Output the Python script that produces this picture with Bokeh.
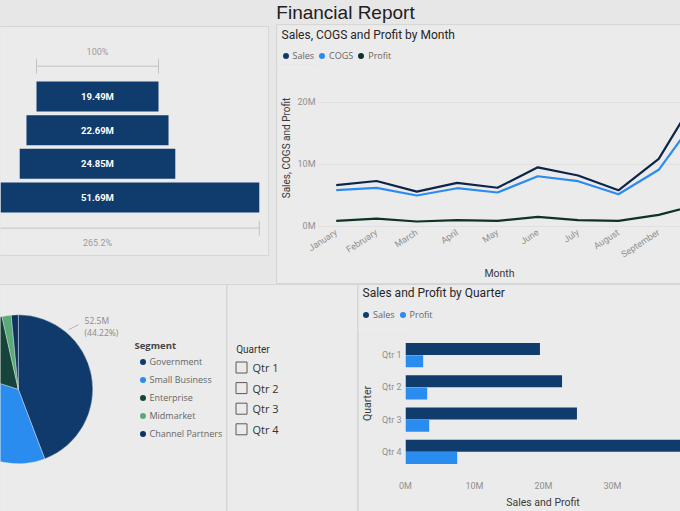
import numpy as np
from bokeh.plotting import figure
from bokeh.layouts import column, row
from bokeh.models import (ColumnDataSource, Range1d, FactorRange, FixedTicker,
                          PrintfTickFormatter, Legend, LegendItem, Div)
from bokeh.transform import dodge
from bokeh.core.properties import value
from bokeh.embed import file_html
from bokeh.resources import INLINE

# ---------------- data ($ millions) ----------------
quarters = ["Qtr 1", "Qtr 2", "Qtr 3", "Qtr 4"]
quarter_sales = [19.49, 22.69, 24.85, 51.69]
quarter_profit = [2.56, 3.14, 3.43, 7.49]

months = ["January", "February", "March", "April", "May", "June",
          "July", "August", "September", "October"]
month_sales = [6.63, 7.29, 5.57, 6.98, 6.21, 9.50, 8.18, 5.80, 10.87, 21.56]
month_cogs = [5.81, 6.19, 4.95, 6.13, 5.44, 8.06, 7.26, 5.16, 9.10, 18.03]
month_profit = [0.87, 1.24, 0.76, 0.97, 0.87, 1.52, 0.97, 0.87, 1.84, 3.52]

segments = ["Government", "Small Business", "Enterprise", "Midmarket", "Channel Partners"]
segment_sales = [52.50, 42.43, 19.61, 2.38, 1.80]

# ---------------- styling ----------------
PAGE = "#e7e7e7"
PANEL = "#ebebeb"
EDGE = "#d6d6d6"
NAVY = "#103c6d"
BRIGHT = "#2b8cf0"
SALES_LINE = "#0d2548"
PROFIT_LINE = "#0d3325"
SEG_COLORS = ["#0f3a6b", BRIGHT, "#17443a", "#5aab78", "#0d3363"]
HEAD_FONT = "Roboto"
BODY_FONT = "Open Sans"

COMMON = dict(toolbar_location=None, output_backend="svg", frame_align=False)
SHADOW = {"box-shadow": f"0 0 0 1px {EDGE}"}


def panel(fig, shadow=True):
    fig.background_fill_color = PANEL
    fig.border_fill_color = PANEL
    fig.outline_line_color = None
    if shadow:
        fig.styles = SHADOW


def style_axis(ax):
    ax.axis_line_color = None
    ax.major_tick_line_color = None
    ax.minor_tick_line_color = None
    ax.major_tick_out = 0
    ax.major_tick_in = 0
    ax.minor_tick_out = 0
    ax.major_label_text_font = HEAD_FONT
    ax.major_label_text_font_size = "9px"
    ax.major_label_text_color = "#8f8f8f"
    ax.axis_label_text_font = HEAD_FONT
    ax.axis_label_text_font_size = "10.5px"
    ax.axis_label_text_color = "#3a3a3a"
    ax.axis_label_text_font_style = "normal"


def dot_legend(items, **kw):
    return Legend(items=items, glyph_width=15, glyph_height=15, label_height=10,
                  label_standoff=0, padding=0, margin=0, border_line_color=None,
                  background_fill_alpha=0, label_text_font=BODY_FONT,
                  label_text_font_size="9px", label_text_color="#666666", **kw)


def visual_header(width, height, title, title_y, keys, legend_loc, spacing):
    """Strip on top of a visual holding its title and its series legend."""
    h = figure(width=width, height=height, x_range=Range1d(0, width),
               y_range=Range1d(height, 0), x_axis_location=None,
               y_axis_location=None, min_border=0, **COMMON)
    panel(h, shadow=False)
    h.grid.visible = False
    h.text(x=[4], y=[title_y], text=[title], text_color="#262626",
           text_font=value(HEAD_FONT), text_font_size="12px", text_baseline="middle")
    items = []
    for name, color in keys:
        r = h.scatter(x=[0], y=[0], size=0, fill_color=color, line_color=None)
        items.append(LegendItem(label=name, renderers=[r]))
    h.add_layout(dot_legend(items, orientation="horizontal", spacing=spacing,
                            location=legend_loc))
    return h


# ---------------- page header ----------------
header = Div(text="Financial Report", width=680, height=25, margin=0,
             styles={"font-family": "'Liberation Sans', Arial, sans-serif",
                     "font-size": "19px", "color": "#202020", "line-height": "25px",
                     "text-align": "center", "padding-left": "11px",
                     "box-sizing": "border-box"})

# ---------------- funnel (sales by quarter) ----------------
n_q = len(quarter_sales)
FUN_PX_PER_M = 6.26
FUN_ROW_PX = 33.67
fun_src = ColumnDataSource(dict(
    y=list(range(n_q)),
    left=[-v / 2 for v in quarter_sales],
    right=[v / 2 for v in quarter_sales],
    x=[0.0] * n_q,
    label=[f"{v:.2f}M" for v in quarter_sales],
))
fun = figure(width=268, height=228, margin=(2, 9, 30, 0),
             x_range=Range1d(-97 / FUN_PX_PER_M, (268 - 97) / FUN_PX_PER_M),
             y_range=Range1d((228 - 69) / FUN_ROW_PX, -69 / FUN_ROW_PX),
             x_axis_location=None, y_axis_location=None, min_border=0, **COMMON)
panel(fun)
fun.grid.visible = False
fun.hbar(y="y", left="left", right="right", height=0.89, source=fun_src,
         fill_color=NAVY, line_color=None)
fun.text(x="x", y="y", text="label", source=fun_src, text_color="white",
         text_font=value(HEAD_FONT), text_font_size="9.5px", text_font_style="bold",
         text_align="center", text_baseline="middle")

# conversion brackets: first stage (100%) and last stage relative to first
first_half = quarter_sales[0] / 2
last_half = quarter_sales[-1] / 2
top_y = -0.90
bot_y = (n_q - 1) + 0.91
tick = 0.22
fun.segment(x0=[-first_half, -first_half, first_half],
            y0=[top_y, top_y - tick, top_y - tick],
            x1=[first_half, -first_half, first_half],
            y1=[top_y, top_y + tick, top_y + tick],
            line_color="#c3c3c3", line_width=1)
fun.segment(x0=[-last_half, -last_half, last_half],
            y0=[bot_y, bot_y - tick, bot_y - tick],
            x1=[last_half, -last_half, last_half],
            y1=[bot_y, bot_y + tick, bot_y + tick],
            line_color="#c3c3c3", line_width=1)
pct_first = "100%"
pct_last = f"{quarter_sales[-1] / quarter_sales[0] * 100:.1f}%"
fun.text(x=[0, 0], y=[top_y - 0.41, bot_y + 0.43], text=[pct_first, pct_last],
         text_color="#9c9c9c", text_font=value(HEAD_FONT), text_font_size="9px",
         text_align="center", text_baseline="middle")

# ---------------- line chart by month ----------------
series = [("Sales", month_sales, SALES_LINE, NAVY),
          ("COGS", month_cogs, BRIGHT, BRIGHT),
          ("Profit", month_profit, PROFIT_LINE, PROFIT_LINE)]
lp_head = visual_header(403, 39, "Sales, COGS and Profit by Month", 9,
                        [(s[0], s[3]) for s in series], (0.5, 1.5), -3)

mx = list(range(len(months)))
lp = figure(width=403, height=219,
            x_range=Range1d(-0.44, 8.54), y_range=Range1d(-0.85, 26.08),
            min_border_left=41, min_border_right=0, min_border_top=0,
            min_border_bottom=52, **COMMON)
panel(lp, shadow=False)
lp.xgrid.visible = False
lp.ygrid.ticker = FixedTicker(ticks=[0, 10, 20])
lp.ygrid.grid_line_color = "#e0e0e0"
style_axis(lp.xaxis[0])
style_axis(lp.yaxis[0])
lp.xaxis.ticker = FixedTicker(ticks=mx)
lp.xaxis.major_label_overrides = {i: m for i, m in enumerate(months)}
lp.xaxis.major_label_orientation = 0.576
lp.xaxis.major_label_standoff = 0
lp.xaxis.axis_label = "Month"
lp.xaxis.axis_label_standoff = 0
lp.yaxis.ticker = FixedTicker(ticks=[0, 10, 20])
lp.yaxis.formatter = PrintfTickFormatter(format="%dM")
lp.yaxis.major_label_standoff = 3
lp.yaxis.axis_label = "Sales, COGS and Profit"
lp.yaxis.axis_label_text_font_size = "10px"
lp.yaxis.axis_label_standoff = 3
for name, vals, lc, _ in reversed(series):
    lp.line(x=mx, y=vals, line_color=lc, line_width=2.2)

line_panel = column(lp_head, lp, margin=(0, 0, 2, 0), styles=SHADOW)

# ---------------- pie by segment ----------------
total = sum(segment_sales)
fracs = [v / total for v in segment_sales]
cum = np.concatenate([[0.0], np.cumsum(fracs)])
pie_src = ColumnDataSource(dict(
    seg=segments, val=segment_sales, color=SEG_COLORS,
    start=[np.pi / 2 - 2 * np.pi * c for c in cum[:-1]],
    end=[np.pi / 2 - 2 * np.pi * c for c in cum[1:]],
    x=[0.0] * len(segments), y=[0.0] * len(segments),
))
R = 74.5
pp = figure(width=227, height=226, x_range=Range1d(-17.8, 209.2),
            y_range=Range1d(-122.2, 103.8), x_axis_location=None,
            y_axis_location=None, min_border=0, **COMMON)
panel(pp)
pp.grid.visible = False
pp.wedge(x="x", y="y", radius=R, start_angle="start", end_angle="end",
         direction="clock", fill_color="color", line_color=PANEL, line_width=0.4,
         source=pie_src)

# data label for the largest segment
ang = 0.87
ax0, ay0 = (R + 3.5) * np.cos(ang), (R + 3.5) * np.sin(ang)
pp.line(x=[ax0, ax0 + 10], y=[ay0, ay0 + 5], line_color="#b5b5b5", line_width=1)
pp.text(x=[ax0 + 16, ax0 + 16], y=[ay0 + 9, ay0 - 3],
        text=[f"{segment_sales[0]}M", f"({fracs[0] * 100:.2f}%)"],
        text_color="#8a8a8a", text_font=value(BODY_FONT), text_font_size="8.5px",
        text_align="left", text_baseline="middle")

seg_dots = pp.scatter(x="x", y="y", size=0, fill_color="color", line_color=None,
                      source=pie_src)
seg_items = [LegendItem(label=s, renderers=[seg_dots], index=i)
             for i, s in enumerate(segments)]
pp.add_layout(dot_legend(seg_items, title="Segment", spacing=3, title_standoff=2,
                         location=(134.5, 70), title_text_font=BODY_FONT,
                         title_text_font_size="9.5px", title_text_font_style="bold",
                         title_text_color="#454545"))

# ---------------- quarter slicer ----------------
SL_ROW = 20.6
sp = figure(width=131, height=226, x_range=Range1d(0, 131),
            y_range=Range1d((226 - 82) / SL_ROW, -82 / SL_ROW),
            x_axis_location=None, y_axis_location=None, min_border=0, **COMMON)
panel(sp)
sp.grid.visible = False
qy = list(range(len(quarters)))
sp.rect(x=[14] * len(quarters), y=qy, width=11, height=11, width_units="screen",
        height_units="screen", fill_color=None, line_color="#5a5a5a", line_width=1)
sp.text(x=[25] * len(quarters), y=qy, text=quarters, text_color="#333333",
        text_font=value(BODY_FONT), text_font_size="11px", text_baseline="middle")
sp.text(x=[8.7], y=[-0.87], text=["Quarter"], text_color="#333333",
        text_font=value(HEAD_FONT), text_font_size="10px", text_baseline="middle")

# ---------------- bar chart by quarter ----------------
bp_head = visual_header(322, 49, "Sales and Profit by Quarter", 7,
                        [("Sales", NAVY), ("Profit", BRIGHT)], (0, 12.5), -1)

bsrc = ColumnDataSource(dict(q=quarters, sales=quarter_sales, profit=quarter_profit))
bp = figure(width=322, height=177,
            y_range=FactorRange(factors=quarters[::-1], range_padding=0.07),
            x_range=Range1d(0, 39.86), min_border_left=47, min_border_right=0,
            min_border_top=0, min_border_bottom=37, **COMMON)
panel(bp, shadow=False)
bp.grid.visible = False
style_axis(bp.xaxis[0])
style_axis(bp.yaxis[0])
bp.xaxis.ticker = FixedTicker(ticks=[0, 10, 20, 30, 40])
bp.xaxis.formatter = PrintfTickFormatter(format="%dM")
bp.xaxis.major_label_standoff = 8
bp.xaxis.axis_label = "Sales and Profit"
bp.xaxis.axis_label_standoff = 2
bp.yaxis.major_label_standoff = 4
bp.yaxis.axis_label = "Quarter"
bp.yaxis.axis_label_standoff = 5
bp.hbar(y=dodge("q", 0.19, range=bp.y_range), right="sales", height=0.37,
        source=bsrc, fill_color=NAVY, line_color=None)
bp.hbar(y=dodge("q", -0.19, range=bp.y_range), right="profit", height=0.37,
        source=bsrc, fill_color=BRIGHT, line_color=None)

bar_panel = column(bp_head, bp, styles=SHADOW)

page = column(header, row(fun, line_panel), row(pp, sp, bar_panel),
              styles={"background-color": PAGE})

open("out.html", "w").write(file_html(page, INLINE, title="Financial Report"))
